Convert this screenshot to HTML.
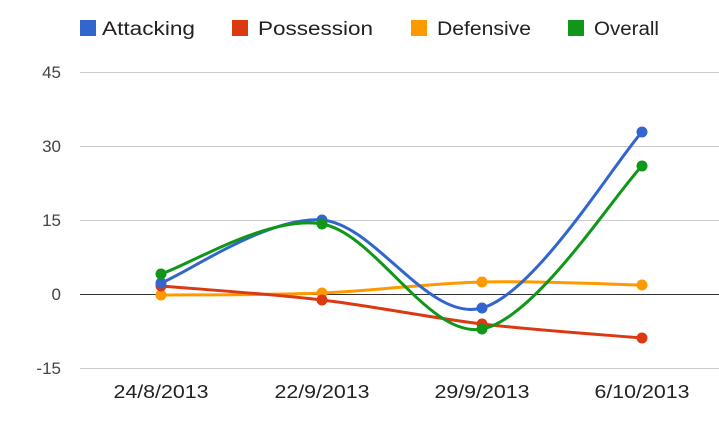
<!DOCTYPE html>
<html><head><meta charset="utf-8"><style>
body{margin:0;background:#fff;width:719px;height:428px;overflow:hidden}
text{font-family:"Liberation Sans",Arial,sans-serif}
</style></head><body>
<svg id="s" width="719" height="428" xmlns="http://www.w3.org/2000/svg">
<g stroke="#cccccc" stroke-width="1">
<line x1="80" y1="72.5" x2="719" y2="72.5"/>
<line x1="80" y1="146.5" x2="719" y2="146.5"/>
<line x1="80" y1="220.5" x2="719" y2="220.5"/>
<line x1="80" y1="368.5" x2="719" y2="368.5"/>
</g>
<line x1="80" y1="294.5" x2="719" y2="294.5" stroke="#333" stroke-width="1"/>
<g font-size="17" fill="#444" text-anchor="end">
<text x="61" y="78">45</text>
<text x="61" y="152">30</text>
<text x="61" y="226">15</text>
<text x="61" y="300">0</text>
<text x="61" y="374">-15</text>
</g>
<g font-size="18" fill="#222" text-anchor="middle" lengthAdjust="spacingAndGlyphs">
<text x="161" y="398" textLength="95" lengthAdjust="spacingAndGlyphs">24/8/2013</text>
<text x="322" y="398" textLength="95" lengthAdjust="spacingAndGlyphs">22/9/2013</text>
<text x="482" y="398" textLength="95" lengthAdjust="spacingAndGlyphs">29/9/2013</text>
<text x="642" y="398" textLength="95" lengthAdjust="spacingAndGlyphs">6/10/2013</text>
</g>
<g font-size="19" fill="#222">
<rect x="80" y="20" width="16" height="16" fill="#3366cc"/><text x="102" y="35" textLength="93" lengthAdjust="spacingAndGlyphs">Attacking</text>
<rect x="232" y="20" width="16" height="16" fill="#dc3912"/><text x="258" y="35" textLength="115" lengthAdjust="spacingAndGlyphs">Possession</text>
<rect x="411" y="20" width="16" height="16" fill="#ff9900"/><text x="437" y="35" textLength="94" lengthAdjust="spacingAndGlyphs">Defensive</text>
<rect x="568" y="20" width="16" height="16" fill="#109618"/><text x="594" y="35" textLength="65" lengthAdjust="spacingAndGlyphs">Overall</text>
</g>
<g id="series"></g>
</svg>
<script>
var xs=[161,322,482,642];
var S=[["#ff9900",[295,293,282,285]],["#dc3912",[286,300,324,338]],["#3366cc",[283,220,308,132]],["#109618",[274,224,329,166]]];
var g=document.getElementById('series'),h='';
S.forEach(function(s){
 var p=xs.map(function(x,i){return [x,s[1][i]]});
 var d='M'+p[0][0]+','+p[0][1];
 for(var i=0;i<3;i++){
  var p0=p[Math.max(0,i-1)],p1=p[i],p2=p[i+1],p3=p[Math.min(3,i+2)];
  var c1=[p1[0]+(p2[0]-p0[0])/6,p1[1]+(p2[1]-p0[1])/6];
  var c2=[p2[0]-(p3[0]-p1[0])/6,p2[1]-(p3[1]-p1[1])/6];
  d+=' C'+c1+' '+c2+' '+p2;
 }
 h+='<path d="'+d+'" fill="none" stroke="'+s[0]+'" stroke-width="3"/>';
 p.forEach(function(q){h+='<circle cx="'+q[0]+'" cy="'+q[1]+'" r="5.5" fill="'+s[0]+'"/>';});
});
g.innerHTML=h;
</script>
</body></html>
